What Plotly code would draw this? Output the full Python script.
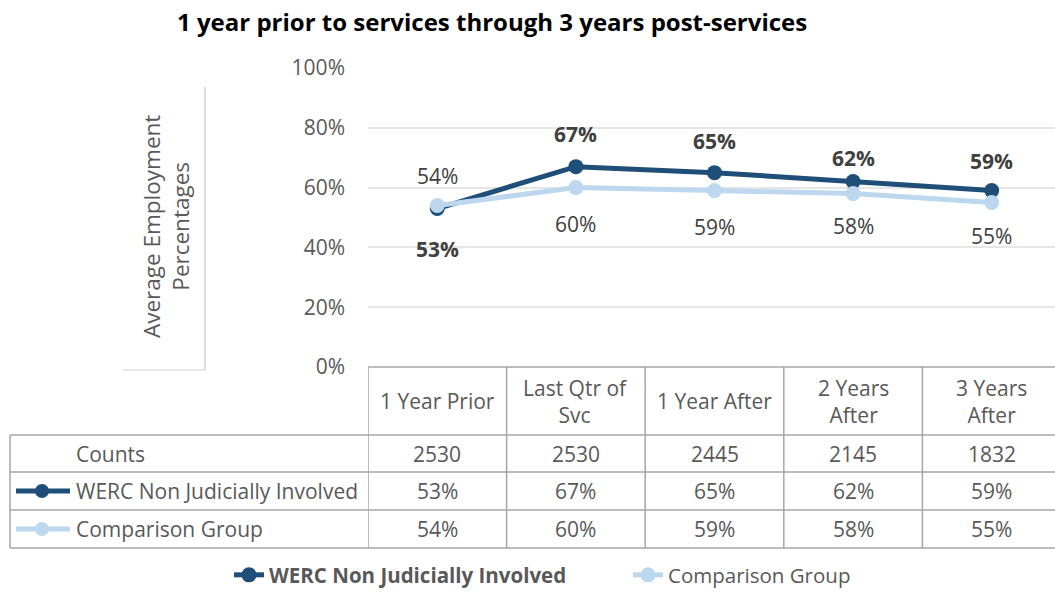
import plotly.graph_objects as go

# ---- data ----
categories = ["1 Year Prior", "Last Qtr of<br>Svc", "1 Year After", "2 Years<br>After", "3 Years<br>After"]
counts = [2530, 2530, 2445, 2145, 1832]
werc = [0.53, 0.67, 0.65, 0.62, 0.59]
comparison = [0.54, 0.60, 0.59, 0.58, 0.55]
series_names = ["WERC Non Judicially Involved", "Comparison Group"]

# ---- styling ----
W, H = 1055, 595
FONT = "Open Sans"
DARK = "#1F4E79"
LIGHT = "#BDD7EE"
TXT = "#595959"
LBL = "#404040"
GRID = "#E6E6E6"
BORDER = "#A6A6A6"

# vertical pixel shift of each data label (positive = above the point)
werc_shift = [-40, 33, 32, 24, 30]
comp_shift = [30, -36, -36, -32, -33]

def px(x):
    return x / W

def py(y):
    return 1 - y / H

col_w = 138.6
x_left = 368
x_range = [-0.5, -0.5 + (W - x_left) / col_w]
y_bottom, y_top = 367, 68

fig = go.Figure()
xs = list(range(len(categories)))

fig.add_trace(go.Scatter(
    x=xs, y=werc, mode="lines+markers", name="<b>" + series_names[0] + "</b>",
    line=dict(color=DARK, width=5), marker=dict(size=15, color=DARK),
))
fig.add_trace(go.Scatter(
    x=xs, y=comparison, mode="lines+markers", name=series_names[1],
    line=dict(color=LIGHT, width=5), marker=dict(size=15, color=LIGHT),
))

annotations = []
shapes = []

# data labels
for i, (v, s) in enumerate(zip(werc, werc_shift)):
    annotations.append(dict(x=i, y=v, xref="x", yref="y", text=f"<b>{round(v*100)}%</b>",
                            xanchor="center", yanchor="middle",
                            showarrow=False, yshift=s, font=dict(size=21, color=LBL, family=FONT)))
for i, (v, s) in enumerate(zip(comparison, comp_shift)):
    annotations.append(dict(x=i, y=v, xref="x", yref="y", text=f"{round(v*100)}%",
                            xanchor="center", yanchor="middle",
                            showarrow=False, yshift=s, font=dict(size=21, color=LBL, family=FONT)))

# title
annotations.append(dict(x=px(492), y=py(22), xref="paper", yref="paper",
                        xanchor="center", yanchor="middle",
                        text="<b>1 year prior to services through 3 years post-services</b>",
                        showarrow=False, font=dict(size=24, color="#000000", family=FONT)))

# y axis title box
annotations.append(dict(x=px(166), y=py(227), xref="paper", yref="paper",
                        xanchor="center", yanchor="middle",
                        text="Average Employment<br>Percentages", textangle=-90,
                        showarrow=False, font=dict(size=22.5, color=TXT, family=FONT)))
shapes.append(dict(type="line", xref="paper", yref="paper", x0=px(205), x1=px(205),
                   y0=py(87), y1=py(370), line=dict(color="#D0D0D0", width=1.5)))
shapes.append(dict(type="line", xref="paper", yref="paper", x0=px(123), x1=px(205),
                   y0=py(370), y1=py(370), line=dict(color="#E0E0E0", width=1.5)))

# data table
row_lines = [435, 472, 510, 548]
header_mid = (367 + 435) / 2
row_mids = [(row_lines[k] + row_lines[k + 1]) / 2 for k in range(3)]

shapes.append(dict(type="line", xref="paper", yref="paper", x0=px(x_left), x1=1,
                   y0=py(367), y1=py(367), line=dict(color=BORDER, width=1.5)))
for yy in row_lines:
    shapes.append(dict(type="line", xref="paper", yref="paper", x0=px(10), x1=1,
                       y0=py(yy), y1=py(yy), line=dict(color=BORDER, width=1.5)))
shapes.append(dict(type="line", xref="paper", yref="paper", x0=px(10), x1=px(10),
                   y0=py(435), y1=py(548), line=dict(color=BORDER, width=1.5)))
for i in range(len(categories)):
    shapes.append(dict(type="line", xref="x", yref="paper", x0=i - 0.5, x1=i - 0.5,
                       y0=py(367), y1=py(548), line=dict(color=BORDER, width=1.5)))

cell_font = dict(size=21, color=TXT, family=FONT)
cell = dict(xref="x", yref="paper", xanchor="center", yanchor="middle", showarrow=False, font=cell_font)
for i, c in enumerate(categories):
    annotations.append(dict(x=i, y=py(header_mid), text=c, **cell))
    annotations.append(dict(x=i, y=py(row_mids[0]), text=str(counts[i]), **cell))
    annotations.append(dict(x=i, y=py(row_mids[1]), text=f"{round(werc[i]*100)}%", **cell))
    annotations.append(dict(x=i, y=py(row_mids[2]), text=f"{round(comparison[i]*100)}%", **cell))

row_labels = ["Counts"] + series_names
for lab, ym in zip(row_labels, row_mids):
    annotations.append(dict(x=px(74), y=py(ym), xref="paper", yref="paper", text=lab,
                            xanchor="left", yanchor="middle", showarrow=False, font=cell_font))

# legend keys inside the table
for color, ym in zip([DARK, LIGHT], row_mids[1:]):
    shapes.append(dict(type="line", xref="paper", yref="paper", x0=px(16), x1=px(70),
                       y0=py(ym), y1=py(ym), line=dict(color=color, width=5)))
    shapes.append(dict(type="circle", xref="paper", yref="paper", x0=px(35), x1=px(49),
                       y0=py(ym - 7), y1=py(ym + 7), fillcolor=color, line=dict(color=color, width=0)))

fig.update_layout(
    width=W, height=H,
    margin=dict(l=0, r=0, t=0, b=0, autoexpand=False),
    paper_bgcolor="white", plot_bgcolor="white",
    font=dict(family=FONT, color=TXT),
    xaxis=dict(domain=[px(x_left), 1], range=x_range, showticklabels=False,
               showgrid=False, zeroline=False, showline=False, fixedrange=True),
    yaxis=dict(domain=[py(y_bottom), py(y_top)], range=[0, 1], tickvals=[0, 0.2, 0.4, 0.6, 0.8, 1.0],
               tickformat=".0%", showgrid=True, gridcolor=GRID, gridwidth=1.5, zeroline=False,
               showline=False, ticks="", ticklabelstandoff=22, automargin=False,
               tickfont=dict(size=21, color=TXT, family=FONT)),
    legend=dict(orientation="h", x=px(229), xanchor="left", y=0, yanchor="bottom",
                font=dict(size=20.5, color=TXT, family=FONT), entrywidth=354, entrywidthmode="pixels",
                bgcolor="rgba(0,0,0,0)", borderwidth=0),
    annotations=annotations,
    shapes=shapes,
)

fig.write_html("out.html")
